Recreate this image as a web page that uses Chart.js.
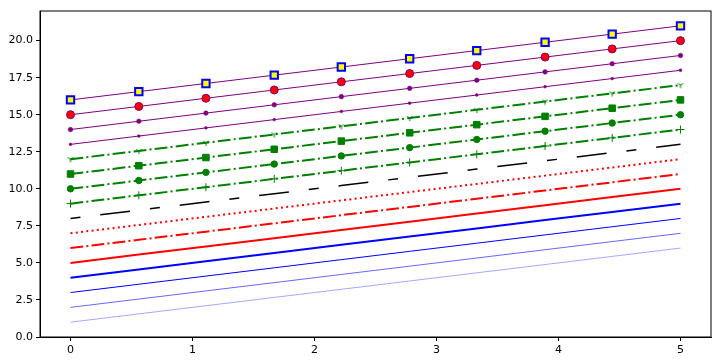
<!DOCTYPE html>
<html>
<head>
<meta charset="utf-8">
<script src="https://cdn.jsdelivr.net/npm/chart.js@4"></script>
<style>
  html, body { margin: 0; padding: 0; background: #ffffff; }
  #wrap { width: 721px; height: 364px; position: relative; }
</style>
</head>
<body>
<div id="wrap"><canvas id="chart" width="721" height="364"></canvas></div>
<script>
const xValues = [0, 0.56, 1.11, 1.67, 2.22, 2.78, 3.33, 3.89, 4.44, 5];
const xTicks = [0, 1, 2, 3, 4, 5];
const yTicks = [0, 2.5, 5, 7.5, 10, 12.5, 15, 17.5, 20];

const line01 = [1, 1.56, 2.11, 2.67, 3.22, 3.78, 4.33, 4.89, 5.44, 6];
const line02 = [2, 2.56, 3.11, 3.67, 4.22, 4.78, 5.33, 5.89, 6.44, 7];
const line03 = [3, 3.56, 4.11, 4.67, 5.22, 5.78, 6.33, 6.89, 7.44, 8];
const line04 = [4, 4.56, 5.11, 5.67, 6.22, 6.78, 7.33, 7.89, 8.44, 9];
const line05 = [5, 5.56, 6.11, 6.67, 7.22, 7.78, 8.33, 8.89, 9.44, 10];
const line06 = [6, 6.56, 7.11, 7.67, 8.22, 8.78, 9.33, 9.89, 10.44, 11];
const line07 = [7, 7.56, 8.11, 8.67, 9.22, 9.78, 10.33, 10.89, 11.44, 12];
const line08 = [8, 8.56, 9.11, 9.67, 10.22, 10.78, 11.33, 11.89, 12.44, 13];
const line09 = [9, 9.56, 10.11, 10.67, 11.22, 11.78, 12.33, 12.89, 13.44, 14];
const line10 = [10, 10.56, 11.11, 11.67, 12.22, 12.78, 13.33, 13.89, 14.44, 15];
const line11 = [11, 11.56, 12.11, 12.67, 13.22, 13.78, 14.33, 14.89, 15.44, 16];
const line12 = [12, 12.56, 13.11, 13.67, 14.22, 14.78, 15.33, 15.89, 16.44, 17];
const line13 = [13, 13.56, 14.11, 14.67, 15.22, 15.78, 16.33, 16.89, 17.44, 18];
const line14 = [14, 14.56, 15.11, 15.67, 16.22, 16.78, 17.33, 17.89, 18.44, 19];
const line15 = [15, 15.56, 16.11, 16.67, 17.22, 17.78, 18.33, 18.89, 19.44, 20];
const line16 = [16, 16.56, 17.11, 17.67, 18.22, 18.78, 19.33, 19.89, 20.44, 21];

const BLUE = "#0000ff";
const RED = "#ff0000";
const GREEN = "#008000";
const PURPLE = "#800080";
const DASHDOT = [12.8, 3.2, 2, 3.2];

function toPoints(ys) {
  return ys.map((y, i) => ({ x: xValues[i], y }));
}

// matplotlib '1' marker (tri_down) drawn on a small canvas
function makeTriDown(color) {
  const c = document.createElement("canvas");
  c.width = 8;
  c.height = 8;
  const ctx = c.getContext("2d");
  ctx.strokeStyle = color;
  ctx.lineWidth = 1;
  ctx.beginPath();
  ctx.moveTo(4, 4);
  ctx.lineTo(4, 7.2);
  ctx.moveTo(4, 4);
  ctx.lineTo(1.2, 2.4);
  ctx.moveTo(4, 4);
  ctx.lineTo(6.8, 2.4);
  ctx.stroke();
  return c;
}

function series(ys, opts) {
  return Object.assign(
    {
      data: toPoints(ys),
      borderColor: BLUE,
      borderWidth: 1,
      pointRadius: 0,
      pointHoverRadius: 0,
      fill: false,
      tension: 0,
    },
    opts
  );
}

const datasets = [
  series(line01, { borderColor: BLUE, borderWidth: 0.35 }),
  series(line02, { borderColor: BLUE, borderWidth: 0.6 }),
  series(line03, { borderColor: BLUE, borderWidth: 1 }),
  series(line04, { borderColor: BLUE, borderWidth: 2 }),
  series(line05, { borderColor: RED, borderWidth: 2 }),
  series(line06, { borderColor: RED, borderWidth: 2, borderDash: DASHDOT }),
  series(line07, { borderColor: RED, borderWidth: 2, borderDash: [2, 3.3] }),
  series(line08, { borderColor: "#000000", borderWidth: 1.5, borderDash: [10, 20, 30, 20] }),
  series(line09, {
    borderColor: GREEN, borderWidth: 2, borderDash: DASHDOT,
    pointStyle: "cross", pointRadius: 4, pointBorderWidth: 1,
    pointBorderColor: GREEN, pointBackgroundColor: GREEN,
  }),
  series(line10, {
    borderColor: GREEN, borderWidth: 2, borderDash: DASHDOT,
    pointStyle: "circle", pointRadius: 3.2, pointBorderWidth: 1,
    pointBorderColor: GREEN, pointBackgroundColor: GREEN,
  }),
  series(line11, {
    borderColor: GREEN, borderWidth: 2, borderDash: DASHDOT,
    pointStyle: "rect", pointRadius: 4.6, pointBorderWidth: 1,
    pointBorderColor: GREEN, pointBackgroundColor: GREEN,
  }),
  series(line12, {
    borderColor: GREEN, borderWidth: 2, borderDash: DASHDOT,
    pointStyle: makeTriDown(GREEN), pointRadius: 4,
  }),
  series(line13, {
    borderColor: PURPLE, borderWidth: 1,
    pointStyle: "circle", pointRadius: 1.4, pointBorderWidth: 0.5,
    pointBorderColor: PURPLE, pointBackgroundColor: PURPLE,
  }),
  series(line14, {
    borderColor: PURPLE, borderWidth: 1,
    pointStyle: "circle", pointRadius: 2.3, pointBorderWidth: 0.5,
    pointBorderColor: PURPLE, pointBackgroundColor: PURPLE,
  }),
  series(line15, {
    borderColor: PURPLE, borderWidth: 1,
    pointStyle: "circle", pointRadius: 4, pointBorderWidth: 1,
    pointBorderColor: PURPLE, pointBackgroundColor: RED,
  }),
  series(line16, {
    borderColor: PURPLE, borderWidth: 1,
    pointStyle: "rect", pointRadius: 5.2, pointBorderWidth: 2,
    pointBorderColor: BLUE, pointBackgroundColor: "#ffff00",
  }),
];

const frameBox = {
  id: "frameBox",
  beforeDraw(chart) {
    const ctx = chart.ctx;
    ctx.save();
    ctx.fillStyle = "#ffffff";
    ctx.fillRect(0, 0, chart.width, chart.height);
    ctx.restore();
  },
  afterDraw(chart) {
    const { left, top, right, bottom } = chart.chartArea;
    const ctx = chart.ctx;
    ctx.save();
    ctx.strokeStyle = "#000000";
    ctx.lineWidth = 1;
    ctx.strokeRect(left, top, right - left, bottom - top);
    ctx.restore();
  },
};

const tickFont = { family: "DejaVu Sans", size: 11 };

new Chart(document.getElementById("chart"), {
  type: "line",
  data: { datasets },
  options: {
    responsive: false,
    animation: false,
    events: [],
    layout: { padding: { top: 11, right: 10, left: 0, bottom: 0 } },
    plugins: {
      legend: { display: false },
      tooltip: { enabled: false },
    },
    scales: {
      x: {
        type: "linear",
        min: -0.25,
        max: 5.25,
        afterBuildTicks: (scale) => {
          scale.ticks = xTicks.map((v) => ({ value: v }));
        },
        afterFit: (scale) => {
          scale.height = 27;
        },
        ticks: {
          color: "#000000",
          font: tickFont,
          padding: 3,
          maxRotation: 0,
          callback: (v) => String(v),
        },
        grid: {
          drawOnChartArea: false,
          drawTicks: true,
          tickLength: 4,
          tickColor: "#000000",
        },
        border: { display: true, color: "#000000" },
      },
      y: {
        type: "linear",
        min: 0,
        max: 22,
        afterBuildTicks: (scale) => {
          scale.ticks = yTicks.map((v) => ({ value: v }));
        },
        afterFit: (scale) => {
          scale.width = 40;
        },
        ticks: {
          color: "#000000",
          font: tickFont,
          padding: 3,
          callback: (v) => Number(v).toFixed(1),
        },
        grid: {
          drawOnChartArea: false,
          drawTicks: true,
          tickLength: 4,
          tickColor: "#000000",
        },
        border: { display: true, color: "#000000" },
      },
    },
  },
  plugins: [frameBox],
});
</script>
</body>
</html>
